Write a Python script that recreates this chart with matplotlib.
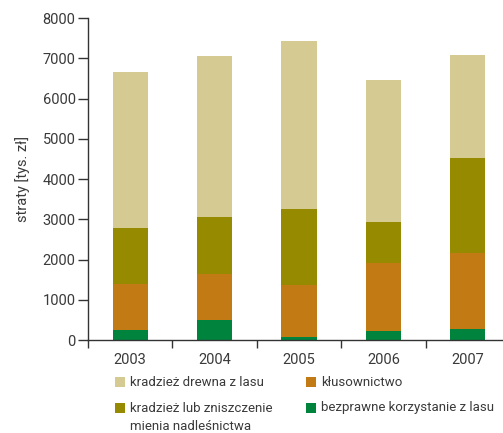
import matplotlib
matplotlib.use("Agg")
import matplotlib.pyplot as plt
from matplotlib.patches import Rectangle
import numpy as np

years = ["2003", "2004", "2005", "2006", "2007"]
bezprawne = [250, 500, 75, 225, 275]
klusownictwo = [1145, 1145, 1295, 1690, 1890]
mienie = [1395, 1420, 1890, 1020, 2365]
drewno = [3880, 3980, 4180, 3535, 2560]

series = [bezprawne, klusownictwo, mienie, drewno]
colors = ["#00843d", "#c27a15", "#968a00", "#d5ca91"]
labels = ["bezprawne korzystanie z lasu", "kłusownictwo",
          "kradzież lub zniszczenie\nmienia nadleśnictwa", "kradzież drewna z lasu"]

txt = "#3a3a3a"
plt.rcParams['font.family'] = ['Roboto', 'DejaVu Sans']
fs = 10.5
lfs = 9.5

fig = plt.figure(figsize=(5.03, 4.33), dpi=100)
ax = fig.add_axes([88/503, 93/433, 422/503, 322/433])

x = np.arange(len(years))
bottom = np.zeros(len(years))
for vals, c in zip(series, colors):
    ax.bar(x, vals, width=0.415, bottom=bottom, color=c, linewidth=0)
    bottom += np.array(vals)

ax.set_xlim(-0.5, len(years) - 0.5)
ax.set_ylim(0, 8000)
ax.set_yticks(np.arange(0, 8001, 1000))
ax.set_yticklabels([str(v) for v in range(0, 8001, 1000)], fontsize=fs, color=txt)
ax.set_xticks(x)
ax.set_xticklabels(years, fontsize=fs, color=txt)
ax.set_xticks(np.arange(-0.5, len(years), 1), minor=True)
ax.tick_params(axis='x', which='major', length=0, pad=9)
ax.tick_params(axis='x', which='minor', length=6, width=1, color="#333333", direction='out')
ax.tick_params(axis='y', length=7, width=1, color="#333333", pad=2)
for s in ['top', 'right']:
    ax.spines[s].set_visible(False)
for s in ['left', 'bottom']:
    ax.spines[s].set_color("#333333")
    ax.spines[s].set_linewidth(1)
ax.set_ylabel("straty [tys. zł]", fontsize=fs, color=txt, labelpad=9)

# legend (manual)
W, H = 503, 433
entries = [(3, 115, 382), (1, 306, 382), (2, 115, 408), (0, 306, 408)]
for idx, px, py in entries:
    fig.add_artist(Rectangle((px / W, 1 - (py + 5) / H), 10 / W, 10 / H,
                             transform=fig.transFigure, color=colors[idx], lw=0))
    lines = labels[idx].split("\n")
    for k, ln in enumerate(lines):
        fig.text((px + 15) / W, 1 - (py + k * 18) / H, ln, fontsize=lfs, color=txt,
                 va='center', ha='left')

fig.savefig("out.png", dpi=100)
